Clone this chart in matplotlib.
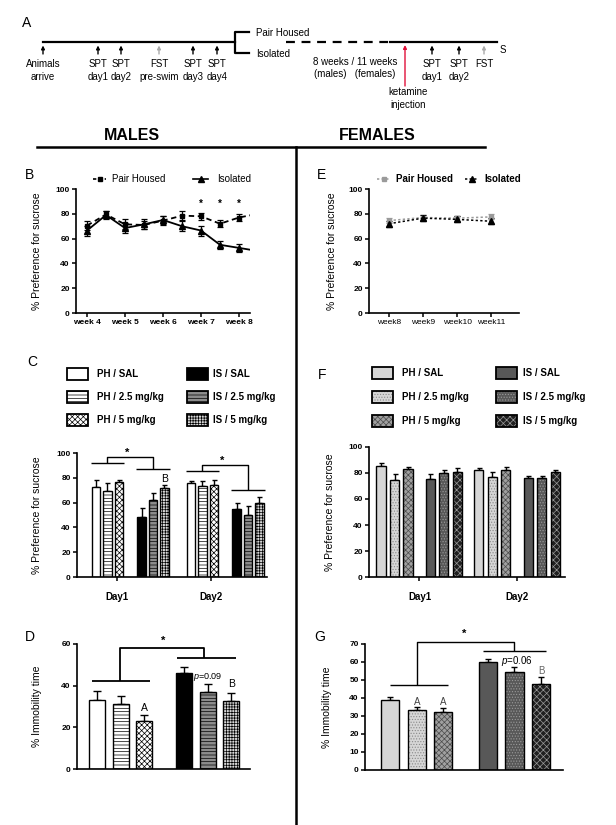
import numpy as np
import matplotlib.pyplot as plt
from matplotlib.patches import Rectangle
from matplotlib.lines import Line2D

plt.rcParams['font.family'] = ['Liberation Sans', 'DejaVu Sans']
plt.rcParams['mathtext.fontset'] = 'custom'
plt.rcParams['mathtext.it'] = 'Liberation Sans:italic'
plt.rcParams['mathtext.rm'] = 'Liberation Sans'
plt.rcParams['hatch.linewidth'] = 0.5

# ============================================================
# Data
# ============================================================
# B: males, weekly sucrose preference
weeks_m = [4, 4.5, 5, 5.5, 6, 6.5, 7, 7.5, 8, 8.5]
ph_m = [70.5, 79.5, 71.5, 71, 74.5, 78.5, 78, 72, 77, 80]
ph_m_err = [3.5, 3, 4, 3.5, 3.5, 3.5, 3, 3, 2.5, 2.5]
is_m = [66.5, 79, 68.5, 71.5, 75, 70, 66.5, 55, 52.5, 50]
is_m_err = [4, 3.5, 4, 4, 3.5, 4, 4, 3, 3, 3]
sig_weeks_m = [7, 7.5, 8]
week_labels_m = ['week 4', 'week 5', 'week 6', 'week 7', 'week 8']

# E: females, weekly sucrose preference
weeks_f = [8, 9, 10, 11]
ph_f = [74.5, 77, 76.5, 77.5]
ph_f_err = [2, 2, 2, 2]
is_f = [72, 76.5, 75.5, 74]
is_f_err = [2.5, 2.5, 2.5, 2.5]
week_labels_f = ['week8', 'week9', 'week10', 'week11']

groups = ['PH / SAL', 'PH / 2.5 mg/kg', 'PH / 5 mg/kg',
          'IS / SAL', 'IS / 2.5 mg/kg', 'IS / 5 mg/kg']
days = ['Day1', 'Day2']

# C: males SPT after ketamine
spt_m_day1 = [72.5, 69, 76.5, 48, 62.5, 72]
spt_m_day1_err = [6, 6.5, 1.5, 8, 5.5, 2]
spt_m_day2 = [76, 73.5, 74.5, 55, 50, 60]
spt_m_day2_err = [1.5, 4, 3.5, 5, 7.5, 4.5]

# D: males FST
fst_m = [33, 31, 23, 46, 37, 32.5]
fst_m_err = [4.3, 4.2, 3, 2.9, 4, 3.8]

# F: females SPT after ketamine
spt_f_day1 = [85.5, 74.5, 83, 75.5, 80, 80.5]
spt_f_day1_err = [2.5, 5, 2, 3.5, 2, 3.5]
spt_f_day2 = [82.5, 77, 82.5, 76.5, 76.5, 80.5]
spt_f_day2_err = [1, 3.5, 2.5, 1.5, 1.3, 2]

# G: females FST
fst_f = [39, 33.5, 32, 60, 54.5, 48]
fst_f_err = [1.5, 1.5, 2.3, 1.8, 3, 3.8]

# ============================================================
# Styles
# ============================================================
male_styles = [
    dict(fc='white'),
    dict(fc='white', hatch='-----', hc='black'),
    dict(fc='white', hatch='xxxxxx', hc='black'),
    dict(fc='black'),
    dict(fc='#8c8c8c', hatch='-----', hc='black'),
    dict(fc='#d8d8d8', hatch='++++++', hc='black'),
]
female_styles = [
    dict(fc='#d6d6d6'),
    dict(fc='#d6d6d6', hatch='......', hc='#8a8a8a'),
    dict(fc='#a0a0a0', hatch='xxxxxx', hc='#4a4a4a'),
    dict(fc='#585858'),
    dict(fc='#585858', hatch='......', hc='#9a9a9a'),
    dict(fc='#202020', hatch='xxxxx', hc='#9a9a9a'),
]

W, H = 616, 825
fig = plt.figure(figsize=(W / 100, H / 100), dpi=100)

# overlay in pixel coordinates for headers, timeline and legends
ov = fig.add_axes([0, 0, 1, 1])
ov.set_xlim(0, W)
ov.set_ylim(H, 0)
ov.axis('off')


def px_axes(x0, y0, x1, y1):
    return fig.add_axes([x0 / W, 1 - y1 / H, (x1 - x0) / W, (y1 - y0) / H])


def prism(ax, xticks=True):
    for s in ['top', 'right']:
        ax.spines[s].set_visible(False)
    for s in ['left', 'bottom']:
        ax.spines[s].set_linewidth(1.2)
    ax.tick_params(direction='out', length=3, width=1.1, labelsize=6, pad=1.5)
    if not xticks:
        ax.tick_params(axis='x', length=0)
        ax.set_xticks([])


def set_yticks(ax, ticks):
    ax.set_yticks(ticks, [str(t) for t in ticks], fontweight='bold', fontsize=6)


def draw_bars(ax, xs, vals, errs, styles, width, capsize):
    for x, v, e, st in zip(xs, vals, errs, styles):
        ax.errorbar(x, v, yerr=[[0], [e]], fmt='none', ecolor='black',
                    elinewidth=1, capsize=capsize, capthick=1, zorder=1)
        ax.bar(x, v, width, color=st['fc'], hatch=st.get('hatch'),
               edgecolor=st.get('hc', st['fc']), linewidth=0, zorder=2)
        ax.bar(x, v, width, fill=False, edgecolor='black', linewidth=1.0, zorder=3)


def bracket(ax, pts, lw=1.0):
    xs, ys = zip(*pts)
    ax.plot(xs, ys, color='black', lw=lw, clip_on=False, solid_capstyle='butt')


def legend_swatches(x_box, x_text, rows, styles, labels):
    for i, (st, lab) in enumerate(zip(styles, labels)):
        col, row = divmod(i, 3)
        y = rows[row]
        xb = x_box[col]
        ov.add_patch(Rectangle((xb, y - 6), 21, 12, facecolor=st['fc'],
                               hatch=st.get('hatch'), edgecolor=st.get('hc', st['fc']),
                               linewidth=0))
        ov.add_patch(Rectangle((xb, y - 6), 21, 12, fill=False,
                               edgecolor='black', linewidth=1.3))
        ov.text(x_text[col], y, lab, fontsize=7, fontweight='bold', va='center', ha='left')


# ============================================================
# Panel A: timeline
# ============================================================
ov.text(27, 23, 'A', fontsize=10, ha='center', va='center')
ov.plot([43, 235], [42, 42], color='black', lw=1.6)
ov.plot([249, 235, 235, 249], [32, 32, 53, 53], color='black', lw=1.6)
ov.text(256, 33, 'Pair Housed', fontsize=7, va='center')
ov.text(256, 54, 'Isolated', fontsize=7, va='center')
ov.plot([286, 388], [42, 42], color='black', lw=1.6, dashes=(4, 3))
ov.plot([390, 497], [42, 42], color='black', lw=1.6)
ov.text(500, 50, 'S', fontsize=7, va='center')

events_pre = ['Animals\narrive', 'SPT\nday1', 'SPT\nday2', 'FST\npre-swim', 'SPT\nday3', 'SPT\nday4']
events_pre_x = [43, 98, 121, 159, 193, 217]
events_post = ['SPT\nday1', 'SPT\nday2', 'FST']
events_post_x = [432, 459, 484]
for labels, xs in [(events_pre, events_pre_x), (events_post, events_post_x)]:
    for lab, x in zip(labels, xs):
        c = '#aaaaaa' if lab.startswith('FST') else 'black'
        ov.annotate('', xy=(x, 45.5), xytext=(x, 54),
                    arrowprops=dict(arrowstyle='-|>', color=c, lw=1.0,
                                    mutation_scale=5, shrinkA=0, shrinkB=0))
        ov.text(x, 59, lab, fontsize=7, ha='center', va='top', linespacing=1.35)

ov.text(355, 57, '8 weeks / 11 weeks\n(males)   (females)', fontsize=7,
        ha='center', va='top', linespacing=1.3)
ov.annotate('', xy=(405, 45), xytext=(405, 86),
            arrowprops=dict(arrowstyle='-|>', color='#e0103a', lw=1.0,
                            mutation_scale=5, shrinkA=0, shrinkB=0))
ov.text(408, 87, 'ketamine\ninjection', fontsize=7, ha='center', va='top', linespacing=1.35)

# headers and dividers
ov.text(132, 135, 'MALES', fontsize=11.5, fontweight='bold', ha='center', va='center')
ov.text(377, 135, 'FEMALES', fontsize=11.5, fontweight='bold', ha='center', va='center')
ov.plot([37, 485], [147, 147], color='black', lw=1.8)
ov.plot([296, 296], [147, 825], color='black', lw=1.8)

# ============================================================
# Panel B: males weekly SPT
# ============================================================
ov.text(30, 175, 'B', fontsize=10, ha='center', va='center')
axB = px_axes(76, 189, 250, 313)
axB.errorbar(weeks_m, ph_m, yerr=ph_m_err, fmt='s', ls=(0, (3, 2)), color='black',
             ms=3.5, lw=1.3, elinewidth=0.9, capsize=2, capthick=0.9)
axB.errorbar(weeks_m, is_m, yerr=is_m_err, fmt='^', ls='-', color='black',
             ms=4, lw=1.3, elinewidth=0.9, capsize=2, capthick=0.9)
for w in sig_weeks_m:
    axB.text(w, 88, '*', ha='center', va='center', fontsize=7, fontweight='bold')
axB.set_xlim(3.71, 8.29)
axB.set_ylim(0, 100)
prism(axB)
axB.set_xticks([4, 5, 6, 7, 8], week_labels_m, fontweight='bold', fontsize=6)
set_yticks(axB, [0, 20, 40, 60, 80, 100])
axB.set_ylabel('% Preference for sucrose', fontsize=7.5)
axB.yaxis.set_label_coords((42 - 76) / 174, 0.5)

ov.add_line(Line2D([93, 106], [179, 179], color='black', lw=1.2, ls=(0, (2, 1.5))))
ov.plot([99.5], [179], marker='s', color='black', ms=3.5)
ov.text(112, 179, 'Pair Housed', fontsize=7, va='center')
ov.add_line(Line2D([193, 208], [179, 179], color='black', lw=1.2))
ov.plot([200.5], [179], marker='^', color='black', ms=4)
ov.text(217, 179, 'Isolated', fontsize=7, va='center')

# ============================================================
# Panel C: males SPT after ketamine
# ============================================================
ov.text(32, 362, 'C', fontsize=10, ha='center', va='center')
legend_swatches([67, 187], [97, 213], [374, 397, 420], male_styles, groups)

axC = px_axes(77, 453, 267, 577)
offs_c = np.array([0, 1, 2, 4, 5, 6])
day_shift_c = [0, 8.33]
for shift, vals, errs in zip(day_shift_c, [spt_m_day1, spt_m_day2],
                             [spt_m_day1_err, spt_m_day2_err]):
    draw_bars(axC, offs_c + shift, vals, errs, male_styles, 0.73, 1.8)
axC.set_xlim(-1.67, 15.0)
axC.set_ylim(0, 100)
prism(axC)
axC.set_xticks([s + 1.8 for s in day_shift_c], days, fontweight='bold', fontsize=7)
axC.tick_params(axis='x', pad=8)
set_yticks(axC, [0, 20, 40, 60, 80, 100])
axC.set_ylabel('% Preference for sucrose', fontsize=7.5)
axC.yaxis.set_label_coords((42 - 77) / 190, 0.5)

# significance brackets, C
ph_line_c = [92, 85.6]
is_line_c = [87.5, 70]
top_c = [96.8, 90]
for shift, yp, yi, yt in zip(day_shift_c, ph_line_c, is_line_c, top_c):
    xs = offs_c + shift
    bracket(axC, [(xs[0] - 0.45, yp), (xs[2] + 0.45, yp)])
    bracket(axC, [(xs[3] - 0.45, yi), (xs[5] + 0.5, yi)])
    bracket(axC, [(xs[1], yp), (xs[1], yt), (xs[4], yt), (xs[4], yi)])
    axC.text((xs[1] + xs[4]) / 2 - 0.3, yt + 3.5, '*', ha='center', va='center',
             fontsize=8, fontweight='bold', clip_on=False)
axC.text(offs_c[5], 79, 'B', ha='center', va='center', fontsize=7.5)

# ============================================================
# Panel D: males FST
# ============================================================
ov.text(30, 637, 'D', fontsize=10, ha='center', va='center')
axD = px_axes(77, 644, 250, 769)
xs_d = np.array([0, 1, 2, 3.7, 4.7, 5.7])
draw_bars(axD, xs_d, fst_m, fst_m_err, male_styles, 0.68, 3)
axD.set_xlim(-0.87, 6.49)
axD.set_ylim(0, 60)
prism(axD, xticks=False)
set_yticks(axD, [0, 20, 40, 60])
axD.set_ylabel('% Immobility time', fontsize=7.5)
axD.yaxis.set_label_coords((42 - 77) / 173, 0.5)
bracket(axD, [(xs_d[0] - 0.23, 42.3), (xs_d[2] + 0.23, 42.3)], lw=1.3)
bracket(axD, [(xs_d[3] - 0.3, 53.3), (xs_d[5] + 0.2, 53.3)], lw=1.3)
bracket(axD, [(xs_d[1] - 0.04, 42.3), (xs_d[1] - 0.04, 58), (xs_d[4] - 0.17, 58),
              (xs_d[4] - 0.17, 53.3)], lw=1.3)
axD.text(2.79, 61.5, '*', ha='center', va='center', fontsize=8, fontweight='bold', clip_on=False)
axD.text(xs_d[2], 29.5, 'A', ha='center', va='center', fontsize=7.5)
axD.text(xs_d[4], 44.3, '$p$=0.09', ha='center', va='center', fontsize=6.5)
axD.text(xs_d[5], 41, 'B', ha='center', va='center', fontsize=7.5)

# ============================================================
# Panel E: females weekly SPT
# ============================================================
ov.text(322, 175, 'E', fontsize=10, ha='center', va='center')
axE = px_axes(369, 189, 519, 313)
axE.errorbar(weeks_f, ph_f, yerr=ph_f_err, fmt='s', ls=(0, (1.5, 1.5)), color='#9a9a9a',
             ms=3.5, lw=1.1, elinewidth=0.9, capsize=2, capthick=0.9)
axE.errorbar(weeks_f, is_f, yerr=is_f_err, fmt='^', ls=(0, (1.5, 1.5)), color='black',
             ms=4, lw=1.1, elinewidth=0.9, capsize=2, capthick=0.9)
axE.set_xlim(7.41, 11.82)
axE.set_ylim(0, 100)
prism(axE)
axE.set_xticks(weeks_f, week_labels_f, fontsize=6)
set_yticks(axE, [0, 20, 40, 60, 80, 100])
axE.set_ylabel('% Preference for sucrose', fontsize=7.5)
axE.yaxis.set_label_coords((337 - 369) / 150, 0.5)

ov.add_line(Line2D([377, 390], [179, 179], color='#9a9a9a', lw=1.1, ls=(0, (1.5, 1.5))))
ov.plot([383.5], [179], marker='s', color='#9a9a9a', ms=3.5)
ov.text(396, 179, 'Pair Housed', fontsize=7, fontweight='bold', va='center')
ov.add_line(Line2D([465, 478], [179, 179], color='black', lw=1.1, ls=(0, (1.5, 1.5))))
ov.plot([471.5], [179], marker='^', color='black', ms=4)
ov.text(484, 179, 'Isolated', fontsize=7, fontweight='bold', va='center')

# ============================================================
# Panel F: females SPT after ketamine
# ============================================================
ov.text(322, 375, 'F', fontsize=10, ha='center', va='center')
legend_swatches([372, 496], [402, 523], [373, 397, 421], female_styles, groups)

axF = px_axes(369, 447, 565, 577)
offs_f = np.array([0, 1, 2, 3.65, 4.65, 5.65])
day_shift_f = [0, 7.25]
for shift, vals, errs in zip(day_shift_f, [spt_f_day1, spt_f_day2],
                             [spt_f_day1_err, spt_f_day2_err]):
    draw_bars(axF, offs_f + shift, vals, errs, female_styles, 0.67, 1.8)
axF.set_xlim(-0.89, 13.63)
axF.set_ylim(0, 100)
prism(axF)
axF.set_xticks([s + 2.85 for s in day_shift_f], days, fontweight='bold', fontsize=7)
axF.tick_params(axis='x', pad=8)
set_yticks(axF, [0, 20, 40, 60, 80, 100])
axF.set_ylabel('% Preference for sucrose', fontsize=7.5)
axF.yaxis.set_label_coords((335 - 369) / 196, 0.5)

# ============================================================
# Panel G: females FST
# ============================================================
ov.text(320, 637, 'G', fontsize=10, ha='center', va='center')
axG = px_axes(365, 644, 563, 770)
xs_g = np.array([0, 1, 2, 3.68, 4.68, 5.68])
draw_bars(axG, xs_g, fst_f, fst_f_err, female_styles, 0.68, 2.5)
axG.set_xlim(-0.96, 6.51)
axG.set_ylim(0, 70)
prism(axG, xticks=False)
set_yticks(axG, [0, 10, 20, 30, 40, 50, 60, 70])
axG.set_ylabel('% Immobility time', fontsize=7.5)
axG.yaxis.set_label_coords((332 - 365) / 198, 0.5)
bracket(axG, [(xs_g[0], 47.2), (xs_g[2] + 0.17, 47.2)])
bracket(axG, [(xs_g[3] - 0.19, 66.3), (xs_g[5] + 0.19, 66.3)])
bracket(axG, [(xs_g[1], 47.2), (xs_g[1], 71.3), (xs_g[4], 71.3), (xs_g[4], 66.3)])
axG.text(2.77, 75.5, '*', ha='center', va='center', fontsize=8, fontweight='bold', clip_on=False)
axG.text(xs_g[1], 38, 'A', ha='center', va='center', fontsize=7, color='#444444')
axG.text(xs_g[2], 38, 'A', ha='center', va='center', fontsize=7, color='#444444')
axG.text(4.77, 60.5, '$p$=0.06', ha='center', va='center', fontsize=7)
axG.text(xs_g[5], 55, 'B', ha='center', va='center', fontsize=7, color='#666666')

fig.savefig('out.png', dpi=100)
